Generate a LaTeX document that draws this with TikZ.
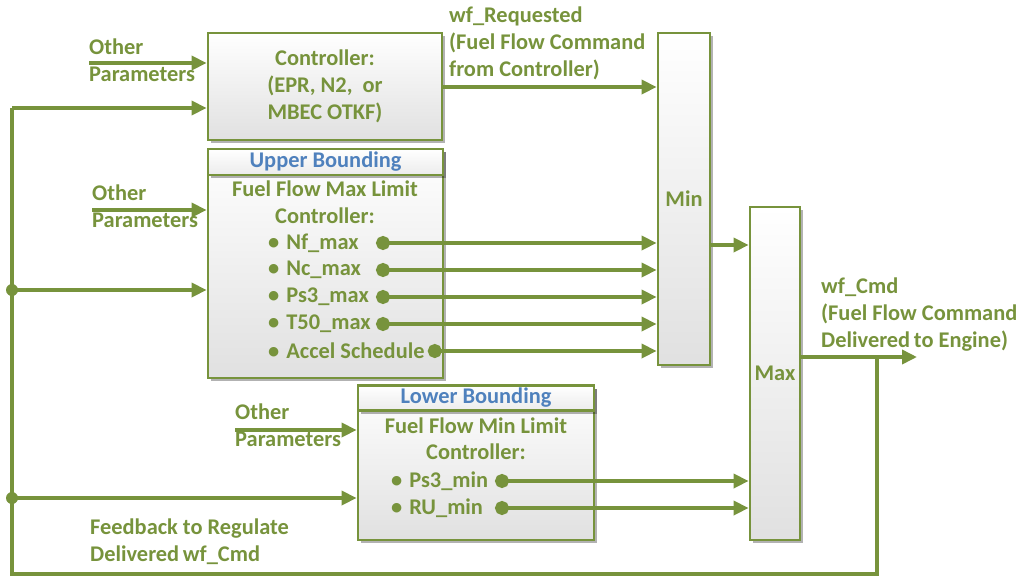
\documentclass[tikz,border=0pt]{standalone}
\usepackage{fontspec}
\setmainfont{Carlito}
\usetikzlibrary{arrows.meta,shadows,calc}
\definecolor{grn}{HTML}{77933C}
\definecolor{blu}{HTML}{4F81BD}
\begin{document}
\begin{tikzpicture}[x=1pt,y=-1pt,
  every node/.style={font=\fontsize{22.4}{27}\selectfont\bfseries, text=grn, inner sep=0pt},
  blk/.style={draw=grn, line width=2.8pt, top color=white, bottom color=gray!24,
    drop shadow={shadow xshift=3pt,shadow yshift=-3pt,opacity=0.3,fill=black}},
  hdr/.style={blk, text=blu, top color=white, bottom color=gray!15},
  lbl/.style={align=left, anchor=west},
  item/.style={anchor=west},
  arr/.style={draw=grn, line width=3.6pt, -{Triangle[length=15pt,width=14pt]}},
  line/.style={draw=grn, line width=3.6pt},
  darr/.style={draw=grn, line width=3.6pt, {Circle[length=14pt,width=14pt]}-{Triangle[length=15pt,width=14pt]}},
  jdot/.style={circle, fill=grn, minimum size=12pt, inner sep=0pt}
]
\useasboundingbox (0,0) rectangle (1016,576);
\newcommand{\bul}{•\kern7pt}

% Controller
\node[blk, minimum width=234pt, minimum height=107pt, align=center] (ctrl) at (325,86.5)
  {Controller:\\(EPR, N2,~~or\\MBEC OTKF)};

% Upper bounding
\node[blk, minimum width=235pt, minimum height=229pt] (up) at (325.5,263.5) {};
\node[hdr, minimum width=235pt, minimum height=26pt] (uh) at (325.5,162) {Upper Bounding};
\node (ut1) at (325,189) {Fuel Flow Max Limit};
\node (ut2) at (325,216) {Controller:};
\node[item] (nf) at (268,243) {\bul Nf\_max};
\node[item] (nc) at (268,270) {\bul Nc\_max};
\node[item] (ps) at (268,297) {\bul Ps3\_max};
\node[item] (t5) at (268,324) {\bul T50\_max};
\node[item] (ac) at (268,351) {\bul Accel Schedule};

% Lower bounding
\node[blk, minimum width=236pt, minimum height=154pt] (lo) at (476,463) {};
\node[hdr, minimum width=236pt, minimum height=25pt] (lh) at (476,398) {Lower Bounding};
\node (lt1) at (476,426) {Fuel Flow Min Limit};
\node (lt2) at (476,452) {Controller:};
\node[item] (p3) at (391,481) {\bul Ps3\_min};
\node[item] (ru) at (391,508) {\bul RU\_min};

% Min / Max
\node[blk, minimum width=52pt, minimum height=332pt] (min) at (684,199) {Min};
\node[blk, minimum width=50pt, minimum height=333pt] (max) at (775,373.5) {Max};

% Labels
\node[lbl] (o1) at (89,60) {Other\\Parameters};
\node[lbl] (o2) at (92,206) {Other\\Parameters};
\node[lbl] (o3) at (235,425) {Other\\Parameters};
\node[lbl] (req) at (449,43.5) {wf\_Requested\\(Fuel Flow Command\\from Controller)};
\node[lbl] (cmd) at (821,314.5) {wf\_Cmd\\(Fuel Flow Command\\Delivered\,to Engine)};
\node[lbl] (fbt) at (90,542) {Feedback to Regulate\\Delivered\,wf\_Cmd};

% Coordinates
\coordinate (fbA) at (12,108);
\coordinate (fbB) at (12,290);
\coordinate (fbC) at (12,498);
\coordinate (fbL) at (12,574);
\coordinate (fbR) at (877,574);
\coordinate (mxo) at (800,357);
\coordinate (br) at (877,357);
\coordinate (out) at (917,357);
\coordinate (mno) at (710,245);
\coordinate (rq) at (442,87);
\coordinate (ux) at (376,0);
\coordinate (lx) at (495,0);

% Other parameter arrows
\draw[arr] (o1.west |- 0,63) -- (ctrl.west |- 0,63);
\draw[arr] (o2.west |- 0,210) -- (up.west |- 0,210);
\draw[arr] (o3.west |- 0,430) -- (lo.west |- 0,430);

% Controller output
\draw[arr] (rq) -- (rq -| min.west);

% Upper outputs
\foreach \n in {nf,nc,ps,t5}{
  \draw[darr] (\n.east -| ux) -- (\n.east -| min.west);
}
\draw[darr] ([xshift=3pt]ac.east) -- (ac.east -| min.west);
% Lower outputs
\foreach \n in {p3,ru}{
  \draw[darr] (\n.east -| lx) -- (\n.east -| max.west);
}

% Min -> Max
\draw[arr] (mno) -- (mno -| max.west);

% Max output & feedback
\draw[arr] (mxo) -- (out);
\draw[line] (br) -- (fbR) -- (fbL) -- (fbA);
\draw[arr] (fbA) -- (fbA -| ctrl.west);
\draw[arr] (fbB) -- (fbB -| up.west);
\draw[arr] (fbC) -- (fbC -| lo.west);
\node[jdot] (j1) at (fbB) {};
\node[jdot] (j2) at (fbC) {};
\end{tikzpicture}
\end{document}
